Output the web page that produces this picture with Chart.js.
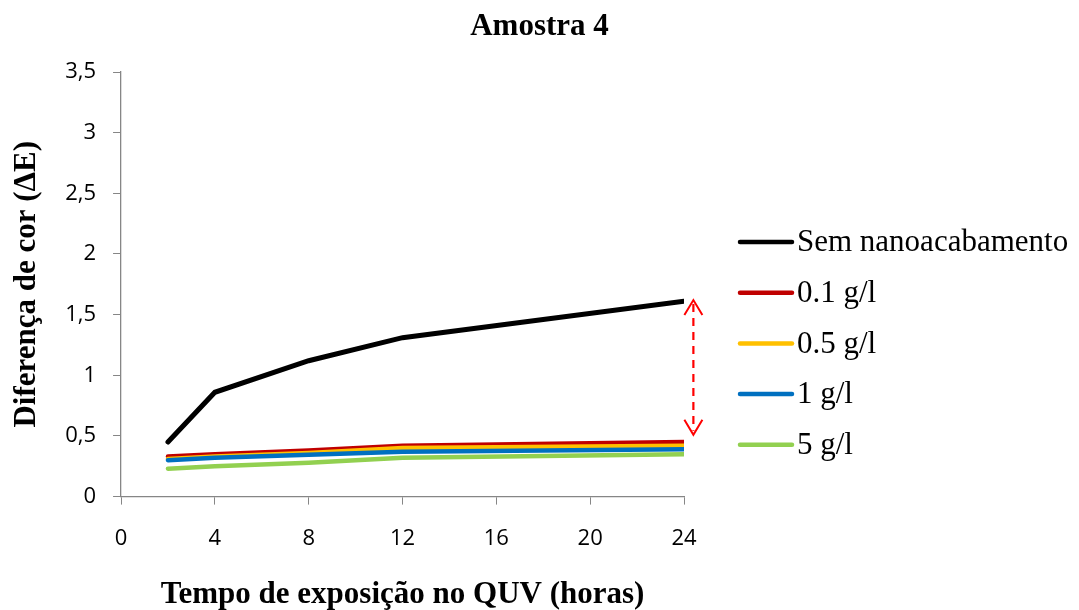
<!DOCTYPE html>
<html>
<head>
<meta charset="utf-8">
<script src="https://cdn.jsdelivr.net/npm/chart.js@4/dist/chart.umd.min.js"></script>
<style>
  html, body { margin: 0; padding: 0; background: #fff; }
  #wrap { width: 1079px; height: 610px; position: relative; }
</style>
</head>
<body>
<div id="wrap"><canvas id="grafico"></canvas></div>
<script>
// Dados
const tempos = [2, 4, 8, 12, 24];
const semNano = [0.45, 0.86, 1.12, 1.31, 1.61];
const g01 = [0.33, 0.35, 0.38, 0.42, 0.45];
const g05 = [0.31, 0.33, 0.36, 0.40, 0.42];
const g1 = [0.30, 0.32, 0.345, 0.37, 0.39];
const g5 = [0.23, 0.25, 0.28, 0.32, 0.35];
const series = ['Sem nanoacabamento', '0.1 g/l', '0.5 g/l', '1 g/l', '5 g/l'];
const cores = ['#000000', '#c00000', '#ffc000', '#0070c0', '#92d050'];
const titulo = 'Amostra 4';
// seta tracejada entre as curvas (x, y inicial, y final)
const setaX = 24.4;
const setaDe = 1.62;
const setaAte = 0.51;

const valores = [semNano, g01, g05, g1, g5];
const pontos = arr => arr.map((v, i) => ({ x: tempos[i], y: v }));
const serif = '"Liberation Serif", "Times New Roman", serif';

// Título centrado na largura toda e legenda estilo Excel
const legendaPlugin = {
    id: 'legendaExcel',
    afterDraw(chart) {
        const ctx = chart.ctx;
        ctx.save();
        ctx.fillStyle = '#000';
        ctx.textBaseline = 'middle';
        ctx.textAlign = 'center';
        ctx.font = 'bold 31px ' + serif;
        ctx.fillText(titulo, chart.width / 2, 27);

        ctx.textAlign = 'left';
        ctx.font = '31px ' + serif;
        chart.data.datasets.forEach((ds, i) => {
            const y = 242 + i * 50.7;
            ctx.strokeStyle = ds.borderColor;
            ctx.lineWidth = 4.5;
            ctx.lineCap = 'round';
            ctx.beginPath();
            ctx.moveTo(740, y);
            ctx.lineTo(792, y);
            ctx.stroke();
            ctx.fillText(ds.label, 797, y + 1);
        });
        ctx.restore();
    }
};

// Seta vermelha dupla tracejada
const setaPlugin = {
    id: 'seta',
    afterDatasetsDraw(chart) {
        const { ctx, scales } = chart;
        const x = scales.x.getPixelForValue(setaX);
        const y1 = scales.y.getPixelForValue(setaDe);
        const y2 = scales.y.getPixelForValue(setaAte);
        ctx.save();
        ctx.strokeStyle = '#ff0000';
        ctx.lineWidth = 2.2;
        ctx.setLineDash([8, 6]);
        ctx.beginPath();
        ctx.moveTo(x, y1 + 4);
        ctx.lineTo(x, y2 - 4);
        ctx.stroke();
        ctx.setLineDash([]);
        ctx.lineWidth = 2;
        ctx.beginPath();
        ctx.moveTo(x - 9, y1 + 15);
        ctx.lineTo(x, y1);
        ctx.lineTo(x + 9, y1 + 15);
        ctx.moveTo(x - 9, y2 - 15);
        ctx.lineTo(x, y2);
        ctx.lineTo(x + 9, y2 - 15);
        ctx.stroke();
        ctx.restore();
    }
};

const ctx = document.getElementById('grafico').getContext('2d');
new Chart(ctx, {
    type: 'line',
    data: {
        datasets: series.map((nome, i) => ({
            label: nome,
            data: pontos(valores[i]),
            borderColor: cores[i],
            backgroundColor: cores[i],
            borderWidth: i === 0 ? 5 : 4.5,
            pointRadius: 0,
            tension: 0,
            borderCapStyle: 'round',
            order: series.length - i
        }))
    },
    options: {
        responsive: true,
        maintainAspectRatio: false,
        animation: false,
        layout: { padding: { left: 8, right: 395, top: 72, bottom: 0 } },
        plugins: {
            legend: { display: false },
            tooltip: { enabled: false },
            title: { display: false }
        },
        scales: {
            x: {
                type: 'linear',
                min: 0,
                max: 24,
                ticks: {
                    stepSize: 4,
                    color: '#000',
                    padding: 21,
                    font: { family: '"Open Sans", sans-serif', size: 22 }
                },
                grid: { drawOnChartArea: false, color: '#868686', tickLength: 8 },
                border: { color: '#868686', width: 1.3 },
                title: {
                    display: true,
                    text: 'Tempo de exposição no QUV (horas)',
                    color: '#000',
                    font: { family: serif, size: 31, weight: 'bold', lineHeight: 1 },
                    padding: { top: 6, bottom: 0 }
                }
            },
            y: {
                min: 0,
                max: 3.5,
                ticks: {
                    stepSize: 0.5,
                    color: '#000',
                    padding: 17,
                    font: { family: '"Open Sans", sans-serif', size: 22 },
                    callback: v => String(v).replace('.', ',')
                },
                grid: { drawOnChartArea: false, color: '#868686', tickLength: 8 },
                border: { color: '#868686', width: 1.3 },
                title: {
                    display: true,
                    text: 'Diferença de cor (ΔE)',
                    color: '#000',
                    font: { family: serif, size: 31, weight: 'bold' },
                    padding: { top: 0, bottom: 3 }
                }
            }
        }
    },
    plugins: [legendaPlugin, setaPlugin]
});
</script>
</body>
</html>
